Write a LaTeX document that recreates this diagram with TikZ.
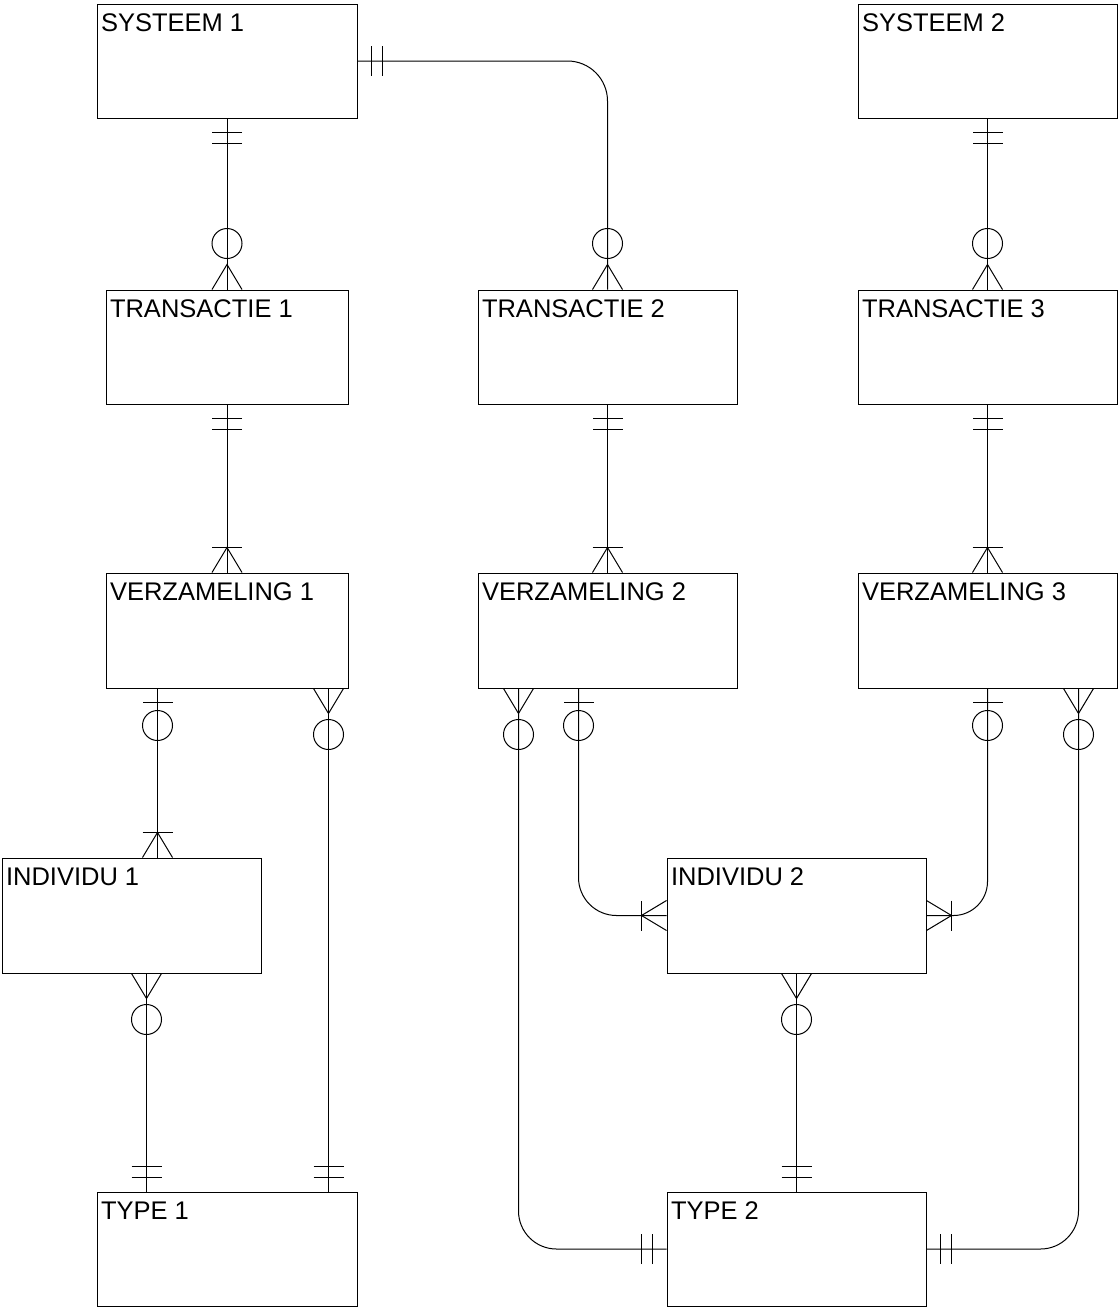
\documentclass[tikz,border=0pt]{standalone}
\usepackage{fontspec}
\setmainfont{Liberation Sans}
\usetikzlibrary{calc}
\begin{document}
\begin{tikzpicture}[x=1pt,y=-1pt,line width=1pt,
  entity/.style={draw,rectangle,inner sep=0pt,minimum width=#1,minimum height=114pt},
  entity/.default=259pt,
  lbl/.style={anchor=base west,inner sep=0pt,font=\fontsize{25.5}{30}\selectfont},
  % crow's foot end markers, drawn along +x away from the entity edge
  onlyone/.pic={\draw (14,-15) -- (14,15) (25,-15) -- (25,15);},
  zeroone/.pic={\draw (14,-15) -- (14,15); \draw (37,0) circle[radius=15];},
  zeromany/.pic={\draw (0,-15) -- (25,0) -- (0,15); \draw (46,0) circle[radius=15];},
  onemany/.pic={\draw (0,-15) -- (25,0) -- (0,15); \draw (25,-15) -- (25,15);}]
\useasboundingbox (0,0) rectangle (1118,1312);

% entities
\node[entity=260pt] (s1) at (227,61) {};
\node[entity] (s2) at (987.5,61) {};
\node[entity=242pt] (t1) at (227,347) {};
\node[entity] (t2) at (607.5,347) {};
\node[entity] (t3) at (987.5,347) {};
\node[entity=242pt,minimum height=115pt] (v1) at (227,630.5) {};
\node[entity,minimum height=115pt] (v2) at (607.5,630.5) {};
\node[entity,minimum height=115pt] (v3) at (987.5,630.5) {};
\node[entity,minimum height=115pt] (i1) at (131.5,915.5) {};
\node[entity,minimum height=115pt] (i2) at (796.5,915.5) {};
\node[entity=260pt] (ty1) at (227,1249) {};
\node[entity] (ty2) at (796.5,1249) {};

% entity names
\node[lbl] (s1l) at ($(s1.north west)+(4,28)$) {SYSTEEM 1};
\node[lbl] (s2l) at ($(s2.north west)+(4,28)$) {SYSTEEM 2};
\node[lbl] (t1l) at ($(t1.north west)+(4,28)$) {TRANSACTIE 1};
\node[lbl] (t2l) at ($(t2.north west)+(4,28)$) {TRANSACTIE 2};
\node[lbl] (t3l) at ($(t3.north west)+(4,28)$) {TRANSACTIE 3};
\node[lbl] (v1l) at ($(v1.north west)+(4,28)$) {VERZAMELING 1};
\node[lbl] (v2l) at ($(v2.north west)+(4,28)$) {VERZAMELING 2};
\node[lbl] (v3l) at ($(v3.north west)+(4,28)$) {VERZAMELING 3};
\node[lbl] (i1l) at ($(i1.north west)+(4,28)$) {INDIVIDU 1};
\node[lbl] (i2l) at ($(i2.north west)+(4,28)$) {INDIVIDU 2};
\node[lbl] (ty1l) at ($(ty1.north west)+(4,28)$) {TYPE 1};
\node[lbl] (ty2l) at ($(ty2.north west)+(4,28)$) {TYPE 2};

% attachment points off the entity centres
\coordinate (v1a) at ($(v1.south west)+(52,0)$);
\coordinate (v1b) at ($(v1.south west)+(223,0)$);
\coordinate (i1a) at (v1a |- i1.north);
\coordinate (i1b) at ($(i1.south west)+(145,0)$);
\coordinate (ty1a) at (i1b |- ty1.north);
\coordinate (ty1b) at (v1b |- ty1.north);
\coordinate (v2a) at ($(v2.south west)+(41,0)$);
\coordinate (v2b) at ($(v2.south west)+(101,0)$);
\coordinate (v3b) at ($(v3.south west)+(221,0)$);

% relationships
\draw (s1.south) -- (t1.north);
\pic[rotate=-90] at (s1.south) {onlyone};
\pic[rotate=90] at (t1.north) {zeromany};

\draw[rounded corners=40pt] (s1.east) -| (t2.north);
\pic at (s1.east) {onlyone};
\pic[rotate=90] at (t2.north) {zeromany};

\draw (s2.south) -- (t3.north);
\pic[rotate=-90] at (s2.south) {onlyone};
\pic[rotate=90] at (t3.north) {zeromany};

\draw (t1.south) -- (v1.north);
\pic[rotate=-90] at (t1.south) {onlyone};
\pic[rotate=90] at (v1.north) {onemany};

\draw (t2.south) -- (v2.north);
\pic[rotate=-90] at (t2.south) {onlyone};
\pic[rotate=90] at (v2.north) {onemany};

\draw (t3.south) -- (v3.north);
\pic[rotate=-90] at (t3.south) {onlyone};
\pic[rotate=90] at (v3.north) {onemany};

\draw (v1a) -- (i1a);
\pic[rotate=-90] at (v1a) {zeroone};
\pic[rotate=90] at (i1a) {onemany};

\draw (v1b) -- (ty1b);
\pic[rotate=-90] at (v1b) {zeromany};
\pic[rotate=90] at (ty1b) {onlyone};

\draw (i1b) -- (ty1a);
\pic[rotate=-90] at (i1b) {zeromany};
\pic[rotate=90] at (ty1a) {onlyone};

\draw[rounded corners=38pt] (v2a) |- (ty2.west);
\pic[rotate=-90] at (v2a) {zeromany};
\pic[rotate=180] at (ty2.west) {onlyone};

\draw[rounded corners=38pt] (v2b) |- (i2.west);
\pic[rotate=-90] at (v2b) {zeroone};
\pic[rotate=180] at (i2.west) {onemany};

\draw[rounded corners=34pt] (v3.south) |- (i2.east);
\pic[rotate=-90] at (v3.south) {zeroone};
\pic at (i2.east) {onemany};

\draw[rounded corners=38pt] (v3b) |- (ty2.east);
\pic[rotate=-90] at (v3b) {zeromany};
\pic at (ty2.east) {onlyone};

\draw (i2.south) -- (ty2.north);
\pic[rotate=-90] at (i2.south) {zeromany};
\pic[rotate=90] at (ty2.north) {onlyone};
\end{tikzpicture}
\end{document}
